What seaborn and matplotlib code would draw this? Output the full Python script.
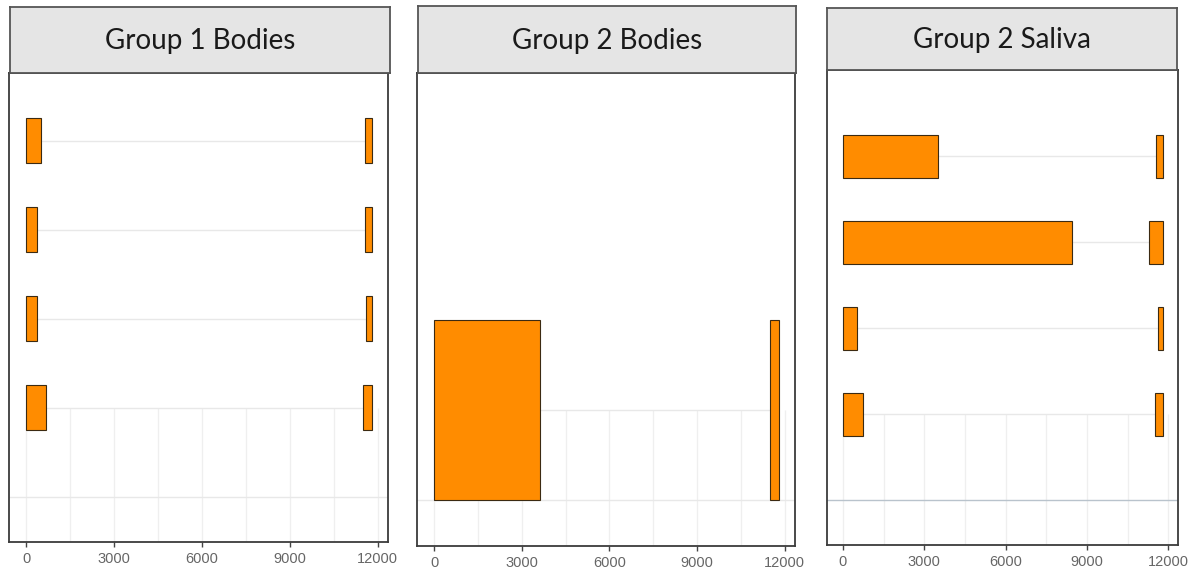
import matplotlib
matplotlib.use("Agg")
import matplotlib.pyplot as plt
import numpy as np
import pandas as pd
import seaborn as sns

# ---- data: covered segments per sample (row 0 = top sample) ----
panels = ["Group 1 Bodies", "Group 2 Bodies", "Group 2 Saliva"]

g1_rows = [0, 1, 2, 3]
g1_left_start = [0, 0, 0, 0]
g1_left_end = [510, 380, 380, 680]
g1_right_start = [11560, 11560, 11590, 11490]
g1_right_end = [11800, 11800, 11800, 11800]

g2b_rows = [3]
g2b_left_start = [0]
g2b_left_end = [3630]
g2b_right_start = [11500]
g2b_right_end = [11800]

g2s_rows = [0, 1, 2, 3]
g2s_left_start = [0, 0, 0, 0]
g2s_left_end = [3510, 8460, 520, 740]
g2s_right_start = [11560, 11300, 11600, 11490]
g2s_right_end = [11800, 11800, 11800, 11800]

x_ticks = [0, 3000, 6000, 9000, 12000]
x_tick_labels = ["0", "3000", "6000", "9000", "12000"]

records = []
for name, rows, ls, le, rs, re in [
    (panels[0], g1_rows, g1_left_start, g1_left_end, g1_right_start, g1_right_end),
    (panels[1], g2b_rows, g2b_left_start, g2b_left_end, g2b_right_start, g2b_right_end),
    (panels[2], g2s_rows, g2s_left_start, g2s_left_end, g2s_right_start, g2s_right_end),
]:
    for r, a, b, c, d in zip(rows, ls, le, rs, re):
        records.append({"panel": name, "row": r, "start": a, "end": b})
        records.append({"panel": name, "row": r, "start": c, "end": d})
df = pd.DataFrame(records)

# ---- style ----
BAR_FILL = "#FF8C00"
BAR_EDGE = "#3b2a12"
GRID = "#EFEFEF"
GAP_LINE = "#E8E8E8"
FRAME = "#3c3c3c"
bar_height = {panels[0]: 0.5, panels[1]: 2.0, panels[2]: 0.5}
base_line = {panels[0]: "#E8E8E8", panels[1]: "#E8E8E8", panels[2]: "#B9C3CC"}
ylims = {panels[0]: (4.51, -0.76), panels[1]: (4.51, -0.74), panels[2]: (4.52, -1.0)}
XLIM = (-588, 12355)

W, H = 1195, 575
axes_px = {  # left, right, top, bottom in pixels
    panels[0]: (9, 388, 73, 542),
    panels[1]: (417, 795, 73, 546),
    panels[2]: (827, 1178, 70, 545),
}
strip_px = {
    panels[0]: (10, 390, 7, 73),
    panels[1]: (418, 796, 6, 73),
    panels[2]: (827, 1177, 8, 70),
}


def px_rect(l, r, t, b):
    return [l / W, (H - b) / H, (r - l) / W, (b - t) / H]


sns.set_theme(style="white")
plt.rcParams["font.family"] = ["Liberation Sans", "DejaVu Sans"]


def draw_coverage(data, color=None, **kws):
    ax = plt.gca()
    panel = data["panel"].iloc[0]
    ax.barh(data["row"], data["end"] - data["start"], left=data["start"],
            height=bar_height[panel], color=BAR_FILL, edgecolor=BAR_EDGE,
            linewidth=0.8, zorder=3)
    for row, grp in data.groupby("row"):
        grp = grp.sort_values("start")
        ax.hlines(row, grp["end"].iloc[0], grp["start"].iloc[1],
                  color=GAP_LINE, linewidth=1.0, zorder=1)


g = sns.FacetGrid(df, col="panel", col_order=panels, sharex=False, sharey=False,
                  height=5, aspect=0.8)
g.map_dataframe(draw_coverage)
fig = g.figure
fig.set_size_inches(W / 100, H / 100)
fig.patch.set_facecolor("white")

minor_ticks = [1500, 4500, 7500, 10500]
for ax, panel in zip(g.axes.flat, panels):
    ax.set_position(px_rect(*axes_px[panel]))
    ax.set_title("")
    ax.set_xlabel("")
    ax.set_ylabel("")
    ax.set_xlim(*XLIM)
    ax.set_ylim(*ylims[panel])
    ax.set_yticks([])
    ax.set_xticks(x_ticks)
    ax.set_xticklabels(x_tick_labels)
    ax.tick_params(axis="x", bottom=True, direction="out", length=3.5, width=1,
                   color="#444444", labelsize=10.5, labelcolor="#666666", pad=4)
    for s in ax.spines.values():
        s.set_visible(True)
        s.set_color(FRAME)
        s.set_linewidth(1.3)
    # grid only in the area below the lowest sample
    lowest = df.loc[df["panel"] == panel, "row"].max()
    ax.vlines(x_ticks + minor_ticks, lowest, ylims[panel][0], color=GRID,
              linewidth=0.9, zorder=0)
    ax.axhline(4, color=base_line[panel], linewidth=1.0, zorder=0)

    sax = fig.add_axes(px_rect(*strip_px[panel]))
    sax.set_facecolor("#E5E5E5")
    sax.set_xticks([])
    sax.set_yticks([])
    for s in sax.spines.values():
        s.set_visible(True)
        s.set_color("#555555")
        s.set_linewidth(1.3)
    sax.text(0.5, 0.48, panel, ha="center", va="center", fontsize=20,
             color="#1a1a1a", family=["Lato", "DejaVu Sans"],
             transform=sax.transAxes)

fig.savefig("out.png", dpi=100)
